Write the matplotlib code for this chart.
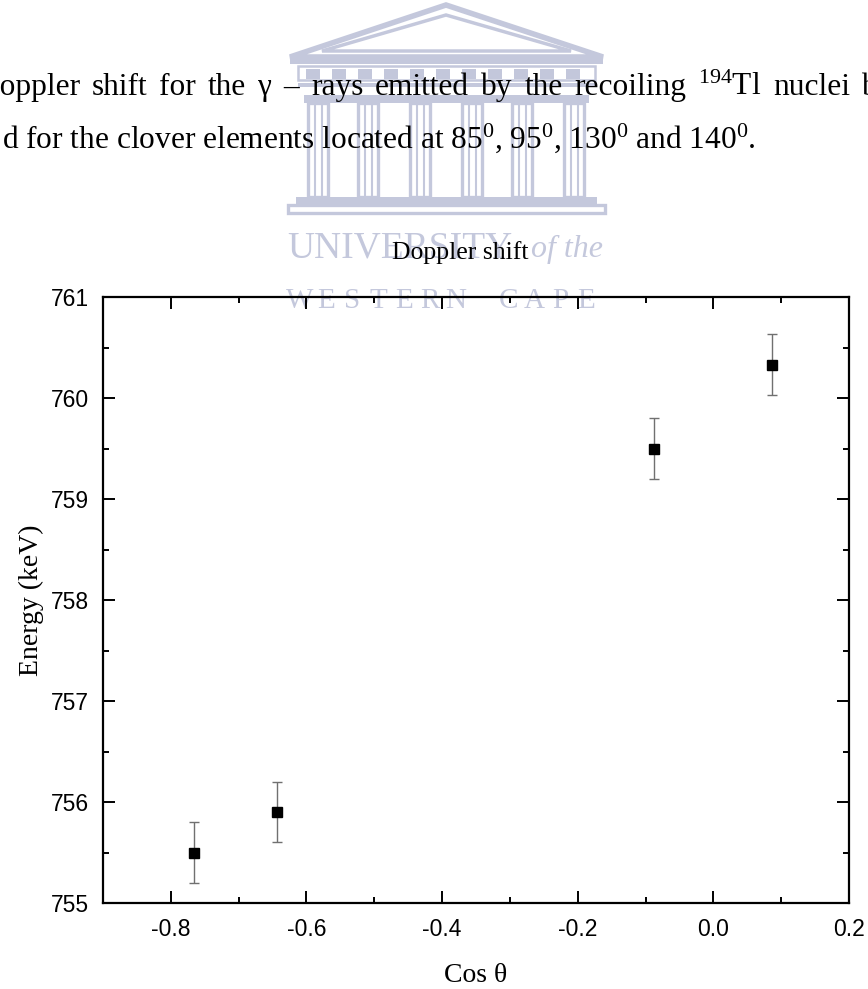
import matplotlib
matplotlib.use("Agg")
import matplotlib.pyplot as plt
from matplotlib.patches import Polygon, Rectangle
from matplotlib.ticker import MultipleLocator

W, H = 868, 989

# measured centroid energies of the 768 keV line for each clover ring
cos_theta = [-0.766, -0.643, -0.087, 0.087]
energy = [755.5, 755.9, 759.5, 760.33]
energy_err = [0.3, 0.3, 0.3, 0.3]

x_ticks = [-0.8, -0.6, -0.4, -0.2, 0.0, 0.2]
y_ticks = [755, 756, 757, 758, 759, 760, 761]

plt.rcParams["axes.unicode_minus"] = False
plt.rcParams["mathtext.fontset"] = "custom"
plt.rcParams["mathtext.rm"] = "Liberation Serif"
plt.rcParams["mathtext.it"] = "Liberation Serif:italic"

SERIF = "Liberation Serif"
SANS = "Liberation Sans"
WM = "#c4c8dc"      # watermark line colour
WM_DARK = "#aab0cc"

fig = plt.figure(figsize=(W / 100, H / 100), dpi=100)

# page layer in pixel coordinates (text above the plot, watermark)
bg = fig.add_axes([0, 0, 1, 1], zorder=0)
bg.set_xlim(0, W)
bg.set_ylim(H, 0)
bg.axis("off")


def temple(a):
    # pediment
    a.add_patch(Polygon([(290, 57), (446, 5), (603, 57)], closed=True,
                        fc="white", ec=WM, lw=4))
    a.add_patch(Polygon([(322, 51), (446, 15), (571, 51)], closed=True,
                        fc="none", ec=WM, lw=2.5))
    # cornice and frieze
    a.add_patch(Rectangle((290, 57), 313, 7, fc=WM, ec="none"))
    a.add_patch(Rectangle((298, 66), 297, 14, fc="none", ec=WM, lw=1.8))
    for bx in range(306, 590, 26):
        a.add_patch(Rectangle((bx, 69), 14, 10, fc=WM_DARK, ec="none",
                              alpha=0.7))
    a.add_patch(Rectangle((298, 83), 297, 4, fc=WM, ec="none"))
    a.add_patch(Rectangle((304, 95), 285, 8, fc=WM, ec="none"))
    # columns
    for cx in [318, 368, 420, 472, 522, 574]:
        a.add_patch(Rectangle((cx - 10, 103), 20, 94, fc="none", ec=WM,
                              lw=2.4))
        a.plot([cx - 3.5, cx - 3.5], [105, 195], color=WM, lw=1.5)
        a.plot([cx + 3.5, cx + 3.5], [105, 195], color=WM, lw=1.5)
    # steps
    a.add_patch(Rectangle((296, 197), 301, 7, fc=WM, ec="none"))
    a.add_patch(Rectangle((288, 205), 317, 8, fc="none", ec=WM, lw=2.4))


temple(bg)

# watermark caption
bg.text(287, 257, "UNIVERSITY", fontsize=27, family=SERIF, color=WM,
        ha="left", va="baseline")
bg.text(531, 257, "of the", fontsize=23, family=SERIF, style="italic",
        color=WM, ha="left", va="baseline")
caption = "WESTERN CAPE"
for i, ch in enumerate(caption):
    bg.text(300 + i * 26, 308, ch, fontsize=21, family=SERIF,
            color=WM, ha="center", va="baseline")

# two lines of body text, first one justified
TXT = 22.6
words = ["Doppler", "shift", "for", "the", "γ", "–", "rays", "emitted", "by",
         "the", "recoiling", "$^{194}$Tl", "nuclei", "by"]
x_start, x_last = -23, 862
renderer = fig.canvas.get_renderer()
objs = [bg.text(0, 95, w, fontsize=TXT, family=SERIF, ha="left",
                va="baseline", zorder=5) for w in words]
widths = [o.get_window_extent(renderer).width for o in objs]
gap = (x_last - x_start - sum(widths[:-1])) / (len(words) - 1)
xpos = x_start
for o, w in zip(objs, widths):
    o.set_x(xpos)
    xpos += w + gap

bg.text(2, 148, r"d for the clover elements located at 85$^0$, 95$^0$, "
        r"130$^0$ and 140$^0$.", fontsize=TXT, family=SERIF, ha="left",
        va="baseline", zorder=5)

# title
bg.text(460, 259, "Doppler shift", fontsize=18.5, family=SERIF, ha="center",
        va="baseline", zorder=5)

# the plot
ax = fig.add_axes([103 / W, 1 - 903 / H, (849 - 103) / W, (903 - 297) / H],
                  zorder=2)
ax.patch.set_alpha(0)

ax.errorbar(cos_theta, energy, yerr=energy_err, fmt="s", color="black",
            ms=7.5, ecolor="#707070", elinewidth=1, capsize=3.6,
            capthick=1)

ax.set_xlim(-0.9, 0.2)
ax.set_ylim(755, 761)
ax.set_xticks(x_ticks)
ax.set_yticks(y_ticks)
ax.xaxis.set_minor_locator(MultipleLocator(0.1))
ax.yaxis.set_minor_locator(MultipleLocator(0.5))
ax.tick_params(which="both", direction="in", top=True, right=True,
               width=1.4, labelsize=16.5)
ax.tick_params(which="major", length=8.5)
ax.tick_params(which="minor", length=4.3)
ax.tick_params(axis="x", pad=11)
ax.tick_params(axis="y", pad=10)
for lab in ax.get_xticklabels() + ax.get_yticklabels():
    lab.set_family(SANS)
for sp in ax.spines.values():
    sp.set_linewidth(1.6)

ax.set_xlabel("Cos θ", fontsize=20, family=SERIF, labelpad=16)
ax.set_ylabel("Energy (keV)", fontsize=20, family=SERIF, labelpad=5)

fig.savefig("out.png", dpi=100)
